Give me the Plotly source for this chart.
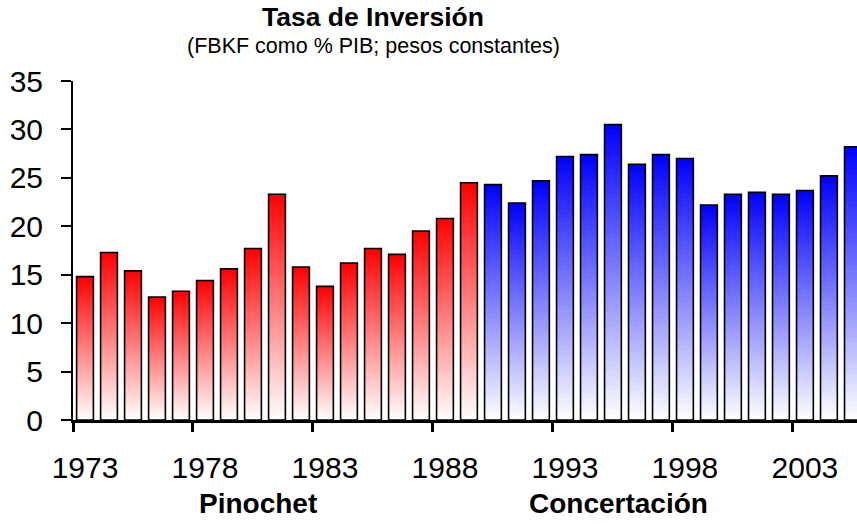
import plotly.graph_objects as go

years = list(range(1973, 2006))
tasa = [14.8, 17.3, 15.4, 12.7, 13.3, 14.4, 15.6, 17.7, 23.3, 15.8, 13.8, 16.2, 17.7, 17.1, 19.5, 20.8, 24.5,
        24.3, 22.4, 24.7, 27.2, 27.4, 30.5, 26.4, 27.4, 27.0, 22.2, 23.3, 23.5, 23.3, 23.7, 25.2, 28.2]
periodo = ["Pinochet"] * 17 + ["Concertación"] * 16
periodos = ["Pinochet", "Concertación"]
colores_periodo = {"Pinochet": (255, 0, 0), "Concertación": (0, 0, 255)}
tick_years = [1973, 1978, 1983, 1988, 1993, 1998, 2003]
y_ticks = [0, 5, 10, 15, 20, 25, 30, 35]

FONT = "Liberation Sans, Arial, sans-serif"
N = 60
xpos = [y + 0.5 for y in years]

fig = go.Figure()
for k in range(N):
    frac = (N - k) / N
    t = (N - k - 0.5) / N
    cols = []
    for p in periodo:
        r, g, b = colores_periodo[p]
        cols.append("rgb(%d,%d,%d)" % (round(255 + (r - 255) * t), round(255 + (g - 255) * t), round(255 + (b - 255) * t)))
    fig.add_trace(go.Bar(x=xpos, y=[v * frac for v in tasa], width=0.7,
                         marker=dict(color=cols, line=dict(width=0)),
                         hoverinfo="skip", showlegend=False))
fig.add_trace(go.Bar(x=xpos, y=tasa, width=0.7,
                     marker=dict(color="rgba(0,0,0,0)", line=dict(color="black", width=1.6)),
                     showlegend=False))

fig.update_layout(
    width=857, height=524,
    margin=dict(l=73, r=0, t=81, b=104),
    barmode="overlay",
    plot_bgcolor="white", paper_bgcolor="white",
    font=dict(family=FONT, color="black"),
    showlegend=False,
)
fig.update_xaxes(range=[1973, 2005.67], tickmode="array", tickvals=tick_years,
                 ticktext=[str(y) for y in tick_years],
                 ticks="outside", ticklen=9, tickwidth=3, tickcolor="black",
                 ticklabelshift=12, ticklabelstandoff=10, automargin=False,
                 showline=True, linecolor="black", linewidth=3,
                 showgrid=False, zeroline=False,
                 tickfont=dict(size=30, family=FONT, color="black"))
fig.update_yaxes(range=[0, 35], tickmode="array", tickvals=y_ticks,
                 ticks="outside", ticklen=10, tickwidth=2, tickcolor="black",
                 ticklabelstandoff=12, automargin=False,
                 showline=True, linecolor="black", linewidth=2,
                 showgrid=False, zeroline=False,
                 tickfont=dict(size=30, family=FONT, color="black"))

fig.add_annotation(text="<b>Tasa de Inversión</b>", xref="paper", yref="paper",
                   x=0.383, y=1.189, xanchor="center", yanchor="middle", showarrow=False,
                   font=dict(size=26.5, family=FONT, color="black"))
fig.add_annotation(text="(FBKF como % PIB; pesos constantes)", xref="paper", yref="paper",
                   x=0.383, y=1.103, xanchor="center", yanchor="middle", showarrow=False,
                   font=dict(size=21.5, family=FONT, color="black"))
for name, xp in zip(periodos, [0.236, 0.696]):
    fig.add_annotation(text="<b>%s</b>" % name, xref="paper", yref="paper",
                       x=xp, y=-0.245, xanchor="center", yanchor="middle", showarrow=False,
                       font=dict(size=28, family=FONT, color="black"))

fig.write_html("out.html", config={"displayModeBar": False},
               post_script="document.body.style.margin='0';")
